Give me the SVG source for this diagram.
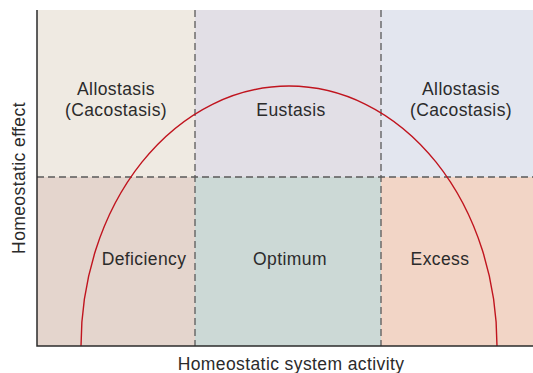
<svg xmlns="http://www.w3.org/2000/svg" width="533" height="373" viewBox="0 0 533 373">
<style>
text{font-family:"Liberation Sans",Arial,sans-serif;font-size:17.5px;fill:#2b2b2b;letter-spacing:0.4px;text-anchor:middle}
.dash{stroke:#5a5a5a;stroke-width:1.3;stroke-dasharray:7,4;fill:none}
.axis{stroke:#2b2b2b;stroke-width:1.5;fill:none}
</style>
<rect width="533" height="373" fill="#ffffff"/>
<g id="cells">
<rect id="top-left" x="37" y="10" width="158" height="167" fill="#efeae2"/>
<rect id="top-mid" x="195" y="10" width="186" height="167" fill="#e2dfe6"/>
<rect id="top-right" x="381" y="10" width="152" height="167" fill="#e3e6ef"/>
<rect id="bot-left" x="37" y="177" width="158" height="169" fill="#e4d5cd"/>
<rect id="bot-mid" x="195" y="177" width="186" height="169" fill="#ccd9d6"/>
<rect id="bot-right" x="381" y="177" width="152" height="169" fill="#f2d5c6"/>
</g>
<g id="connectors">
<line class="dash" x1="195" y1="10" x2="195" y2="346"/>
<line class="dash" x1="381" y1="10" x2="381" y2="346"/>
<line class="dash" x1="37" y1="177" x2="533" y2="177"/>
<path d="M81,346 A208,260 0 0 1 497,346" fill="none" stroke="#c0141e" stroke-width="1.4"/>
<polyline class="axis" points="37,10 37,346 533,346"/>
</g>
<g id="labels">
<text x="116" y="95">Allostasis</text>
<text x="116" y="116">(Cacostasis)</text>
<text x="291" y="116">Eustasis</text>
<text x="461" y="95">Allostasis</text>
<text x="461" y="116">(Cacostasis)</text>
<text x="144" y="265">Deficiency</text>
<text x="290" y="265">Optimum</text>
<text x="440" y="265">Excess</text>
<text x="291" y="370">Homeostatic system activity</text>
<text transform="translate(25,178) rotate(-90)">Homeostatic effect</text>
</g>
</svg>
